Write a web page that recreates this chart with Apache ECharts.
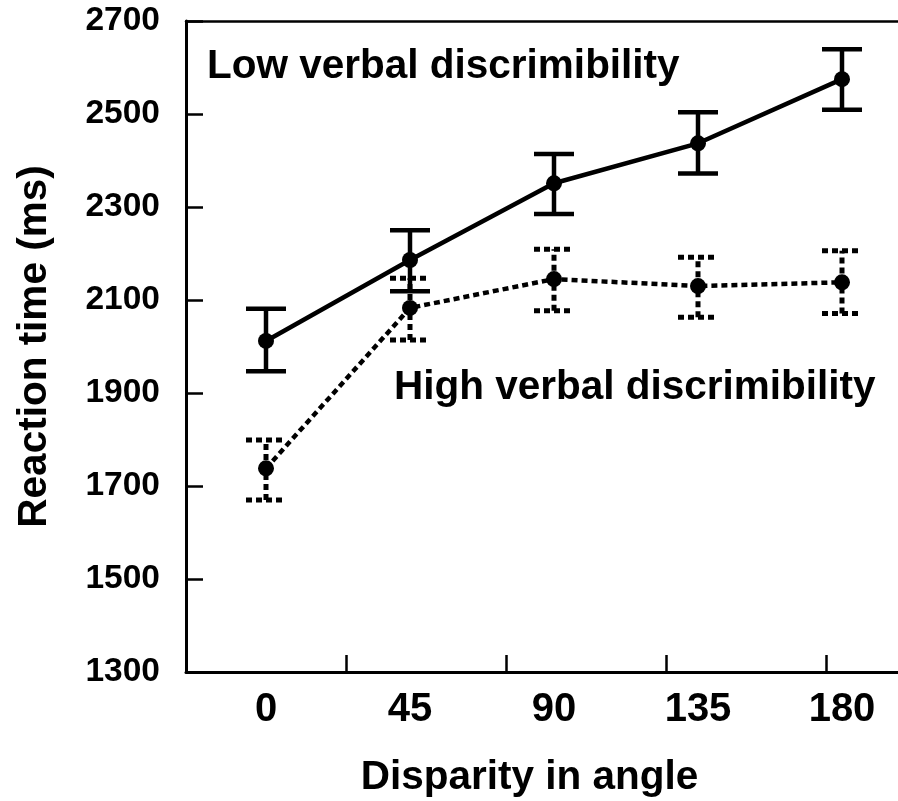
<!DOCTYPE html>
<html>
<head>
<meta charset="utf-8">
<script src="https://cdn.jsdelivr.net/npm/echarts@6/dist/echarts.min.js"></script>
<style>
  html, body { margin: 0; padding: 0; background: #fff; }
  #chart { width: 898px; height: 801px; }
</style>
</head>
<body>
<div id="chart"></div>
<script>
// values
var angles = [0, 45, 90, 135, 180];
var lowMean = [2012, 2186, 2351, 2437, 2575];
var lowUpper = [2081, 2250, 2414, 2504, 2639];
var lowLower = [1947, 2119, 2285, 2372, 2509];
var highMean = [1738, 2083, 2145, 2130, 2138];
var highUpper = [1799, 2147, 2209, 2192, 2206];
var highLower = [1670, 2014, 2077, 2063, 2071];
var xTicks = [25, 75, 125, 175];

var font = "'Liberation Sans', Arial, Helvetica, sans-serif";

function pairs(ys) {
  return angles.map(function (a, i) { return [a, ys[i]]; });
}
function errData(lo, hi) {
  return angles.map(function (a, i) { return [a, lo[i], hi[i]]; });
}

// error bars drawn through the axes' coordinate system
function errorBars(dash) {
  return function (params, api) {
    var x = api.value(0);
    var lo = api.coord([x, api.value(1)]);
    var hi = api.coord([x, api.value(2)]);
    var half = 20;
    var style = { stroke: '#000', lineWidth: dash ? 5 : 4.5, lineDash: dash || null };
    return {
      type: 'group',
      children: [
        { type: 'line', shape: { x1: lo[0], y1: lo[1], x2: hi[0], y2: hi[1] }, style: style },
        { type: 'line', shape: { x1: hi[0] - half, y1: hi[1], x2: hi[0] + half, y2: hi[1] }, style: style },
        { type: 'line', shape: { x1: lo[0] - half, y1: lo[1], x2: lo[0] + half, y2: lo[1] }, style: style }
      ]
    };
  };
}

var chart = echarts.init(document.getElementById('chart'));

var option = {
  animation: false,
  grid: { left: 186, right: 0, top: 21, bottom: 129, outerBoundsMode: 'none', containLabel: false },
  xAxis: [
    {
      type: 'value',
      min: -25,
      max: 197.5,
      interval: 50,
      name: 'Disparity in angle',
      nameLocation: 'middle',
      nameGap: 85,
      nameTextStyle: { color: '#000', fontFamily: font, fontWeight: 'bold', fontSize: 40.5, padding: [0, 25, 0, 0] },
      axisLine: { onZero: false, lineStyle: { color: '#000', width: 3 } },
      axisTick: { inside: true, length: 17, customValues: xTicks, lineStyle: { color: '#000', width: 2.5 } },
      axisLabel: { customValues: angles, margin: 18, color: '#000', fontFamily: font, fontWeight: 'bold', fontSize: 40 },
      splitLine: { show: false }
    },
    {
      type: 'value',
      position: 'top',
      min: -25,
      max: 197.5,
      axisLine: { show: true, onZero: false, lineStyle: { color: '#000', width: 2.5 } },
      axisTick: { show: false },
      axisLabel: { show: false },
      splitLine: { show: false }
    }
  ],
  yAxis: {
    type: 'value',
    min: 1300,
    max: 2700,
    interval: 200,
    name: 'Reaction time (ms)',
    nameLocation: 'middle',
    nameGap: 131,
    nameTextStyle: { color: '#000', fontFamily: font, fontWeight: 'bold', fontSize: 40.5 },
    axisLine: { show: true, onZero: false, lineStyle: { color: '#000', width: 3 } },
    axisTick: { inside: true, length: 17, lineStyle: { color: '#000', width: 2.5 } },
    axisLabel: {
      margin: 26, color: '#000', fontFamily: font, fontWeight: 'bold', fontSize: 33.5,
      formatter: function (v) { return String(v); }
    },
    splitLine: { show: false }
  },
  graphic: [
    { type: 'text', left: 207, top: 46, style: { text: 'Low verbal discrimibility', fill: '#000', font: 'bold 40.5px ' + font } },
    { type: 'text', left: 394, top: 367, style: { text: 'High verbal discrimibility', fill: '#000', font: 'bold 40.5px ' + font } }
  ],
  series: [
    {
      type: 'custom',
      renderItem: errorBars(null),
      data: errData(lowLower, lowUpper),
      z: 3
    },
    {
      type: 'custom',
      renderItem: errorBars([6, 4]),
      data: errData(highLower, highUpper),
      z: 3
    },
    {
      name: 'Low verbal discrimibility',
      type: 'line',
      data: pairs(lowMean),
      symbol: 'circle',
      symbolSize: 16,
      itemStyle: { color: '#000' },
      lineStyle: { color: '#000', width: 4.5 },
      z: 4
    },
    {
      name: 'High verbal discrimibility',
      type: 'line',
      data: pairs(highMean),
      symbol: 'circle',
      symbolSize: 16,
      itemStyle: { color: '#000' },
      lineStyle: { color: '#000', width: 4.5, type: [6, 4] },
      z: 4
    }
  ]
};

chart.setOption(option);
</script>
</body>
</html>
